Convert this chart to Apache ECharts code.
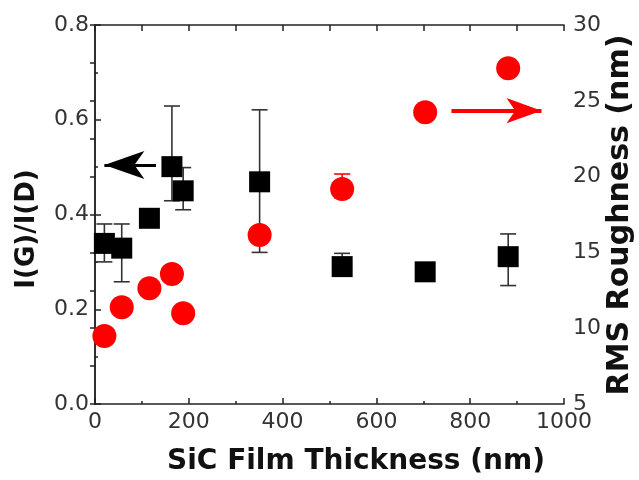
<!DOCTYPE html>
<html>
<head>
<meta charset="utf-8">
<script src="https://cdn.jsdelivr.net/npm/echarts@6/dist/echarts.min.js"></script>
<style>html,body{margin:0;padding:0;background:#fff}#c{width:639px;height:480px}</style>
</head>
<body>
<div id="c"></div>
<script>
// ---- data ----
const thickness  = [20, 57, 116, 164, 188, 351, 527, 704, 881];      // nm
const ratio      = [0.339, 0.329, 0.392, 0.501, 0.450, 0.469, 0.290, 0.279, 0.311]; // I(G)/I(D)
const ratioLow   = [0.300, 0.258, null, 0.429, 0.410, 0.320, 0.275, null, 0.250];
const ratioHigh  = [0.380, 0.380, null, 0.629, 0.499, 0.621, 0.318, null, 0.359];
const roughness  = [9.49, 11.38, 12.63, 13.58, 10.98, 16.15, 19.18, 24.24, 27.14]; // RMS nm
const roughLow   = [null, null, null, null, null, null, 18.6, null, null];
const roughHigh  = [null, null, null, null, null, null, 20.17, null, null];
const xTickLabels = ['0', '200', '400', '600', '800', '1000'];
const leftTickLabels = ['0.0', '0.2', '0.4', '0.6', '0.8'];
const rightTickLabels = ['5', '10', '15', '20', '25', '30'];
const blackArrow = {from: [130, 0.5045], to: [20, 0.5045]};
const redArrow = {from: [760, 24.35], to: [952, 24.35]};
const xName = 'SiC Film Thickness (nm)';
const leftName = 'I(G)/I(D)';
const rightName = 'RMS Roughness (nm)';

// ---- build ----
const chart = echarts.init(document.getElementById('c'), null, {renderer: 'canvas'});
const axisColor = '#222';
const labelFont = {fontFamily: 'DejaVu Sans', fontSize: 22, color: '#333'};

function errData(xs, lo, hi) {
  const out = [];
  for (let i = 0; i < xs.length; i++) {
    if (lo[i] != null && hi[i] != null) out.push([xs[i], lo[i], hi[i]]);
  }
  return out;
}
function errRender(color) {
  return function (params, api) {
    const x = api.value(0);
    const pLo = api.coord([x, api.value(1)]);
    const pHi = api.coord([x, api.value(2)]);
    const hw = 8;
    const style = {stroke: color, lineWidth: 1.6, fill: null};
    return {
      type: 'group',
      children: [
        {type: 'line', shape: {x1: pLo[0], y1: pLo[1], x2: pHi[0], y2: pHi[1]}, style: style},
        {type: 'line', shape: {x1: pLo[0] - hw, y1: pLo[1], x2: pLo[0] + hw, y2: pLo[1]}, style: style},
        {type: 'line', shape: {x1: pHi[0] - hw, y1: pHi[1], x2: pHi[0] + hw, y2: pHi[1]}, style: style}
      ]
    };
  };
}

const option = {
  backgroundColor: '#fff',
  animation: false,
  grid: {left: 95, right: 75, top: 25, bottom: 76, containLabel: false},
  xAxis: [
    {
      type: 'value', position: 'bottom', min: 0, max: 1000, interval: 200,
      axisLine: {show: true, lineStyle: {color: axisColor, width: 1.5}},
      axisTick: {show: true, inside: true, length: 6, lineStyle: {color: axisColor, width: 1.5}},
      minorTick: {show: true, splitNumber: 2, length: 3, lineStyle: {color: axisColor, width: 1.5}},
      splitLine: {show: false}, minorSplitLine: {show: false},
      axisLabel: Object.assign({margin: 7, formatter: (v) => xTickLabels[Math.round(v / 200)] || ''}, labelFont)
    },
    {
      type: 'value', position: 'top', min: 0, max: 1000, interval: 100,
      axisLine: {show: true, lineStyle: {color: axisColor, width: 1.5}},
      axisTick: {show: true, inside: true, length: 6, lineStyle: {color: axisColor, width: 1.5}},
      axisLabel: {show: false}, splitLine: {show: false}
    }
  ],
  yAxis: [
    {
      type: 'value', position: 'left', min: 0, max: 0.8, interval: 0.2,
      axisLine: {show: true, lineStyle: {color: axisColor, width: 1.5}},
      axisTick: {show: true, inside: true, length: 6, lineStyle: {color: axisColor, width: 1.5}},
      minorTick: {show: true, splitNumber: 2, length: 3, lineStyle: {color: axisColor, width: 1.5}},
      splitLine: {show: false}, minorSplitLine: {show: false},
      axisLabel: Object.assign({margin: 6, formatter: (v) => leftTickLabels[Math.round(v / 0.2)] || ''}, labelFont)
    },
    {
      type: 'value', position: 'right', min: 5, max: 30, interval: 5,
      axisLine: {show: true, lineStyle: {color: axisColor, width: 1.5}},
      axisTick: {show: true, inside: true, length: 5, lineStyle: {color: axisColor, width: 1.5}},
      minorTick: {show: true, splitNumber: 2, length: 5, lineStyle: {color: axisColor, width: 1.5}},
      splitLine: {show: false}, minorSplitLine: {show: false},
      axisLabel: Object.assign({margin: 9, formatter: (v) => rightTickLabels[Math.round((v - 5) / 5)] || ''}, labelFont)
    }
  ],
  graphic: [
    {type: 'text', x: 356, y: 462, silent: true,
     style: {text: xName, fontFamily: 'DejaVu Sans', fontWeight: 'bold', fontSize: 28, fill: '#111', align: 'center', verticalAlign: 'middle'}},
    {type: 'text', x: 27, y: 229, rotation: Math.PI / 2, silent: true,
     style: {text: leftName, fontFamily: 'DejaVu Sans', fontWeight: 'bold', fontSize: 26, fill: '#111', align: 'center', verticalAlign: 'middle'}},
    {type: 'text', x: 620, y: 215, rotation: Math.PI / 2, silent: true,
     style: {text: rightName, fontFamily: 'DejaVu Sans', fontWeight: 'bold', fontSize: 30, fill: '#111', align: 'center', verticalAlign: 'middle'}}
  ],
  series: [
    {
      type: 'custom', xAxisIndex: 0, yAxisIndex: 0, silent: true, z: 2,
      renderItem: errRender('#333'),
      encode: {x: 0, y: [1, 2]},
      data: errData(thickness, ratioLow, ratioHigh)
    },
    {
      type: 'scatter', xAxisIndex: 0, yAxisIndex: 0, z: 3,
      symbol: 'rect', symbolSize: 21,
      itemStyle: {color: '#000', opacity: 1},
      data: thickness.map((x, i) => [x, ratio[i]]),
      markLine: {
        silent: true, animation: false,
        label: {show: false},
        lineStyle: {color: '#000', width: 3, type: 'solid', opacity: 1},
        data: [[
          {coord: blackArrow.from, symbol: 'none'},
          {coord: blackArrow.to, symbol: 'arrow', symbolSize: [21, 40]}
        ]]
      }
    },
    {
      type: 'custom', xAxisIndex: 0, yAxisIndex: 1, silent: true, z: 4,
      renderItem: errRender('#ff0000'),
      encode: {x: 0, y: [1, 2]},
      data: errData(thickness, roughLow, roughHigh)
    },
    {
      type: 'scatter', xAxisIndex: 0, yAxisIndex: 1, z: 5,
      symbol: 'circle', symbolSize: 24,
      itemStyle: {color: '#ff0000', opacity: 1},
      data: thickness.map((x, i) => [x, roughness[i]]),
      markLine: {
        silent: true, animation: false,
        label: {show: false},
        lineStyle: {color: '#ff0000', width: 4, type: 'solid', opacity: 1},
        data: [[
          {coord: redArrow.from, symbol: 'none'},
          {coord: redArrow.to, symbol: 'arrow', symbolSize: [19, 35]}
        ]]
      }
    }
  ]
};
chart.setOption(option);
</script>
</body>
</html>
